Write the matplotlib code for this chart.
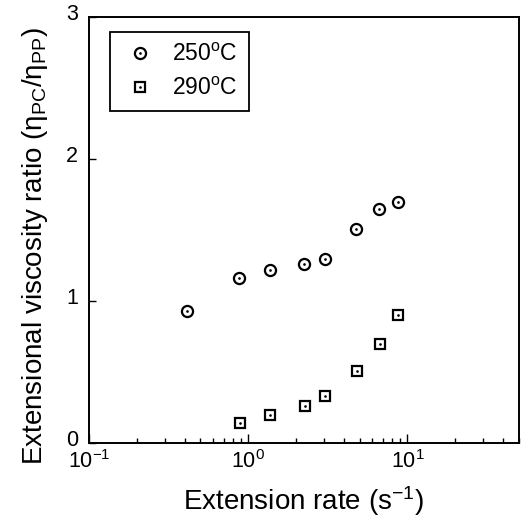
import matplotlib
matplotlib.use("Agg")
import matplotlib.pyplot as plt
import matplotlib.transforms as mtransforms

plt.rcParams["font.family"] = ["Liberation Sans", "DejaVu Sans"]
plt.rcParams["mathtext.fontset"] = "custom"
plt.rcParams["mathtext.rm"] = "Liberation Sans"
plt.rcParams["mathtext.it"] = "Liberation Sans:italic"
plt.rcParams["mathtext.bf"] = "Liberation Sans:bold"

# data
rate_250 = [0.41, 0.87, 1.36, 2.23, 3.02, 4.78, 6.67, 8.74]
ratio_250 = [0.93, 1.16, 1.22, 1.26, 1.30, 1.51, 1.65, 1.70]
rate_290 = [0.89, 1.37, 2.26, 3.05, 4.80, 6.70, 8.78]
ratio_290 = [0.14, 0.20, 0.26, 0.33, 0.51, 0.70, 0.90]
labels = ["250$^\\mathrm{o}$C", "290$^\\mathrm{o}$C"]

fig = plt.figure(figsize=(5.24, 5.25), dpi=100)
ax = fig.add_axes([0.170, 0.1556, 0.820, 0.812])

ms = 8
c1, = ax.plot(rate_250, ratio_250, "o", ms=ms, mfc="white", mec="black", mew=1.6, ls="none")
d1, = ax.plot(rate_250, ratio_250, ".", ms=1.8, color="black", ls="none")
s1, = ax.plot(rate_290, ratio_290, "s", ms=ms - 0.8, mfc="white", mec="black", mew=1.6, ls="none")
d2, = ax.plot(rate_290, ratio_290, ".", ms=1.8, color="black", ls="none")

ax.set_xscale("log")
ax.set_xlim(0.1, 50)
ax.set_ylim(0, 3)
ax.set_yticks([0, 1, 2, 3])

for sp in ax.spines.values():
    sp.set_linewidth(1.4)
ax.tick_params(axis="both", which="both", direction="in", top=False, right=False, labelsize=15.5)
ax.tick_params(axis="x", which="major", length=6.5, width=1.0, pad=5)
ax.tick_params(axis="x", which="minor", length=3.6, width=1.0)
ax.tick_params(axis="y", which="major", length=5, width=1.0, pad=8)

# nudge y tick labels up a little, as in the original
offset = mtransforms.ScaledTranslation(0, 5 / 100, fig.dpi_scale_trans)
for tick in ax.yaxis.get_major_ticks():
    tick.label1.set_transform(tick.label1.get_transform() + offset)

ax.set_xlabel("Extension rate (s$^{-1}$)", fontsize=20, labelpad=8)
ax.set_ylabel("Extensional viscosity ratio (η$_\\mathrm{PC}$/η$_\\mathrm{PP}$)", fontsize=20)
ax.yaxis.set_label_coords(-0.09, 0.462)

leg = ax.legend([(c1, d1), (s1, d2)], labels, loc="upper left",
                bbox_to_anchor=(0.049, 0.965), borderaxespad=0, fontsize=16.5,
                frameon=True, fancybox=False, edgecolor="black", framealpha=1,
                borderpad=0.5, handlelength=1.6, handletextpad=0.6, labelspacing=0.45)
leg.get_frame().set_linewidth(1.3)

fig.savefig("out.png", dpi=100)
